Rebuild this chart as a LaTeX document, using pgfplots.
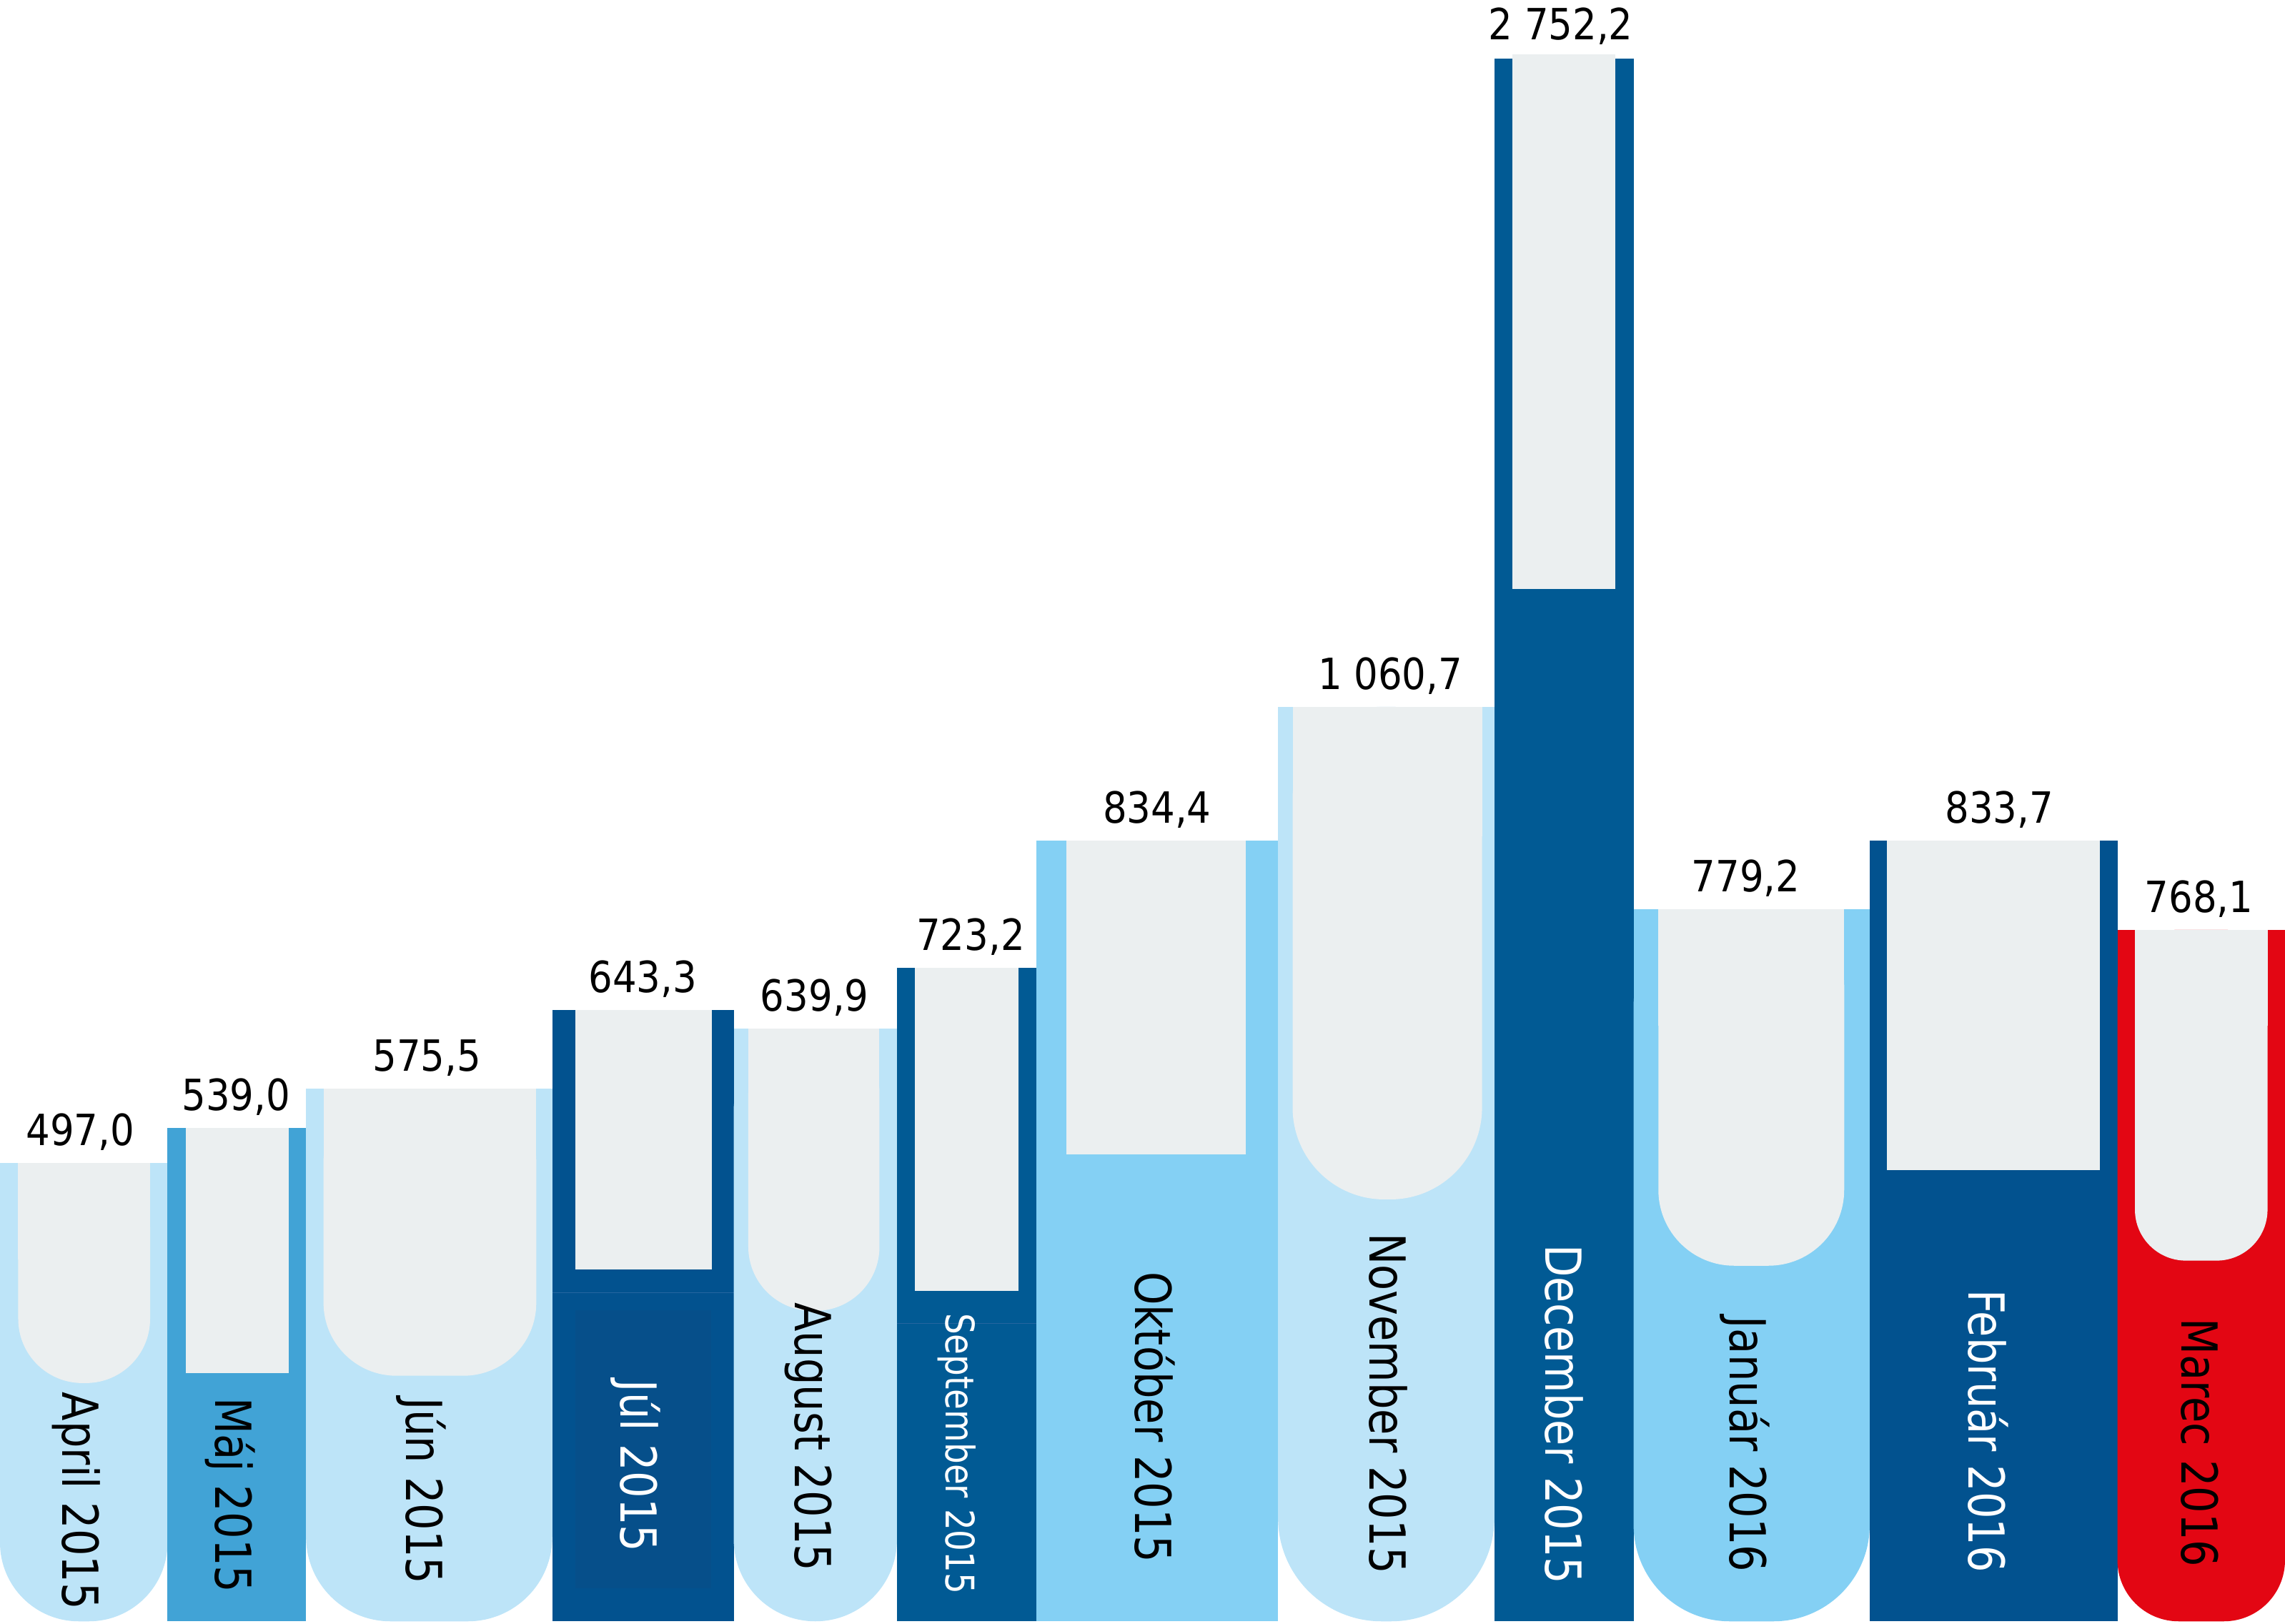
\documentclass[border=0pt]{standalone}
\usepackage{pgfplots}
\pgfplotsset{compat=1.18}
\usepackage{pgfplotstable}
\usepackage{fontspec}
\setmainfont{DejaVu Sans}
\newfontfamily\valfont[FakeStretch=0.88]{DejaVu Sans}
\newfontfamily\monfont[FakeStretch=0.85]{DejaVu Sans}

\definecolor{lb}{HTML}{BDE4F8}
\definecolor{mb}{HTML}{41A3D6}
\definecolor{cb}{HTML}{84D0F4}
\definecolor{dba}{HTML}{02528F}
\definecolor{dbb}{HTML}{015A94}
\definecolor{dbin}{HTML}{064F8A}
\definecolor{red}{HTML}{E30613}
\definecolor{glass}{HTML}{EBEFF0}
\definecolor{seam}{HTML}{2566A0}

% value labels: x centre, baseline (picture units, 1 unit = 0.2 mm)
\pgfplotstableread{
x y label
55 328 {497,0}
162 352 {539,0}
293 379 {575,5}
441 433 {643,3}
559 420 {639,9}
666 462 {723,2}
794 549 {834,4}
954 641 {1 060,7}
1071 1087 {2 752,2}
1198 502 {779,2}
1372 549 {833,7}
1509 488 {768,1}
}\vals

% month labels (rotated): baseline x, centre y
\pgfplotstableread{
x y label
43 84 {April 2015}
148 88 {Máj 2015}
279 91 {Jún 2015}
545.6 128 {August 2015}
779 141.5 {Október 2015}
940 151 {November 2015}
1187 123 {Január 2016}
1497 124 {Marec 2016}
}\monthsdark

\pgfplotstableread{
x y label
426 108 {Júl 2015}
1060.4 143.4 {December 2015}
1351 132 {Február 2016}
}\monthslight

\begin{document}
\begin{tikzpicture}
\begin{axis}[
    x=0.2mm, y=0.2mm,
    xmin=0, xmax=1568, ymin=0, ymax=1114,
    hide axis, clip=false,
]
\addplot[draw=none] coordinates {(0,0) (1568,1114)};

% ---- outer shapes ----
% April
\addplot[fill=lb, draw=none, rounded corners=10.8mm] coordinates {(0,316) (0,1.5) (115,1.5) (115,316)} -- cycle;
\addplot[fill=lb, draw=none] coordinates {(0,230) (115,230) (115,316) (0,316)} -- cycle;
% Maj
\addplot[fill=mb, draw=none] coordinates {(115,1.5) (210,1.5) (210,340) (115,340)} -- cycle;
% Jun
\addplot[fill=lb, draw=none, rounded corners=11.6mm] coordinates {(210,367) (210,1.5) (379,1.5) (379,367)} -- cycle;
\addplot[fill=lb, draw=none] coordinates {(210,280) (379,280) (379,367) (210,367)} -- cycle;
% Jul
\addplot[fill=dba, draw=none] coordinates {(379,1.5) (503.5,1.5) (503.5,421) (379,421)} -- cycle;
\addplot[fill=dbin, draw=none] coordinates {(395,24) (488,24) (488,215) (395,215)} -- cycle;
\addplot[draw=seam, line width=0.3pt] coordinates {(379,227) (503.5,227)};
% August
\addplot[fill=lb, draw=none, rounded corners=11.2mm] coordinates {(503.5,408) (503.5,1.5) (615.5,1.5) (615.5,408)} -- cycle;
\addplot[fill=lb, draw=none] coordinates {(503.5,320) (615.5,320) (615.5,408) (503.5,408)} -- cycle;
% September
\addplot[fill=dbb, draw=none] coordinates {(615.5,1.5) (711,1.5) (711,450) (615.5,450)} -- cycle;
\addplot[draw=seam, line width=0.3pt] coordinates {(615.5,206) (711,206)};
% Oktober
\addplot[fill=cb, draw=none] coordinates {(711,1.5) (877,1.5) (877,537) (711,537)} -- cycle;
% November
\addplot[fill=lb, draw=none, rounded corners=14.2mm] coordinates {(877,629) (877,1.5) (1025.5,1.5) (1025.5,629)} -- cycle;
\addplot[fill=lb, draw=none] coordinates {(877,520) (1025.5,520) (1025.5,629) (877,629)} -- cycle;
% December
\addplot[fill=dbb, draw=none] coordinates {(1025.5,1.5) (1121,1.5) (1121,1074) (1025.5,1074)} -- cycle;
% Januar
\addplot[fill=cb, draw=none, rounded corners=13.2mm] coordinates {(1121,490) (1121,1.5) (1283,1.5) (1283,490)} -- cycle;
\addplot[fill=cb, draw=none] coordinates {(1121,390) (1283,390) (1283,490) (1121,490)} -- cycle;
% Februar
\addplot[fill=dba, draw=none] coordinates {(1283,1.5) (1453,1.5) (1453,537) (1283,537)} -- cycle;
% Marec
\addplot[fill=red, draw=none, rounded corners=8.4mm] coordinates {(1453,476) (1453,1.5) (1568,1.5) (1568,476)} -- cycle;
\addplot[fill=red, draw=none] coordinates {(1453,400) (1568,400) (1568,476) (1453,476)} -- cycle;

% ---- inner glass ----
\addplot[fill=glass, draw=none, rounded corners=8.8mm] coordinates {(12.5,316) (12.5,165) (103,165) (103,316)} -- cycle;
\addplot[fill=glass, draw=none] coordinates {(12.5,250) (103,250) (103,316) (12.5,316)} -- cycle;
\addplot[fill=glass, draw=none] coordinates {(127.5,172) (198,172) (198,340) (127.5,340)} -- cycle;
\addplot[fill=glass, draw=none, rounded corners=10mm] coordinates {(222,367) (222,170) (368,170) (368,367)} -- cycle;
\addplot[fill=glass, draw=none] coordinates {(222,290) (368,290) (368,367) (222,367)} -- cycle;
\addplot[fill=glass, draw=none] coordinates {(395,243) (488.5,243) (488.5,421) (395,421)} -- cycle;
\addplot[fill=glass, draw=none, rounded corners=8.8mm] coordinates {(513.5,408) (513.5,214.5) (603.5,214.5) (603.5,408)} -- cycle;
\addplot[fill=glass, draw=none] coordinates {(513.5,340) (603.5,340) (603.5,408) (513.5,408)} -- cycle;
\addplot[fill=glass, draw=none] coordinates {(628,228) (699,228) (699,450) (628,450)} -- cycle;
\addplot[fill=glass, draw=none] coordinates {(732,322) (855,322) (855,537) (732,537)} -- cycle;
\addplot[fill=glass, draw=none, rounded corners=12.6mm] coordinates {(887,629) (887,291) (1017,291) (1017,629)} -- cycle;
\addplot[fill=glass, draw=none] coordinates {(887,540) (1017,540) (1017,629) (887,629)} -- cycle;
\addplot[fill=glass, draw=none] coordinates {(1038,710) (1108.5,710) (1108.5,1076.5) (1038,1076.5)} -- cycle;
\addplot[fill=glass, draw=none, rounded corners=10.4mm] coordinates {(1138,490) (1138,245.5) (1265.5,245.5) (1265.5,490)} -- cycle;
\addplot[fill=glass, draw=none] coordinates {(1138,410) (1265.5,410) (1265.5,490) (1138,490)} -- cycle;
\addplot[fill=glass, draw=none] coordinates {(1295,311) (1441,311) (1441,537) (1295,537)} -- cycle;
\addplot[fill=glass, draw=none, rounded corners=7mm] coordinates {(1465,476) (1465,249) (1556,249) (1556,476)} -- cycle;
\addplot[fill=glass, draw=none] coordinates {(1465,410) (1556,410) (1556,476) (1465,476)} -- cycle;

% ---- labels ----
\addplot[draw=none, mark=none, point meta=explicit symbolic, nodes near coords,
    every node near coord/.style={anchor=base, inner sep=0pt, text=black,
        font=\valfont\fontsize{16.8}{18}\selectfont}]
    table[x=x, y=y, meta=label] {\vals};
\addplot[draw=none, mark=none, point meta=explicit symbolic, nodes near coords,
    every node near coord/.style={rotate=-90, anchor=base, inner sep=0pt, text=black,
        font=\monfont\fontsize{19.4}{20}\selectfont}]
    table[x=x, y=y, meta=label] {\monthsdark};
\addplot[draw=none, mark=none, point meta=explicit symbolic, nodes near coords,
    every node near coord/.style={rotate=-90, anchor=base, inner sep=0pt, text=white,
        font=\monfont\fontsize{19.4}{20}\selectfont}]
    table[x=x, y=y, meta=label] {\monthslight};
\addplot[draw=none, mark=none, point meta=explicit symbolic, nodes near coords,
    every node near coord/.style={rotate=-90, anchor=base, inner sep=0pt, text=white,
        font=\monfont\fontsize{15.4}{16}\selectfont}]
    coordinates {(649.3,116.5) [September 2015]};
\end{axis}
\end{tikzpicture}
\end{document}
